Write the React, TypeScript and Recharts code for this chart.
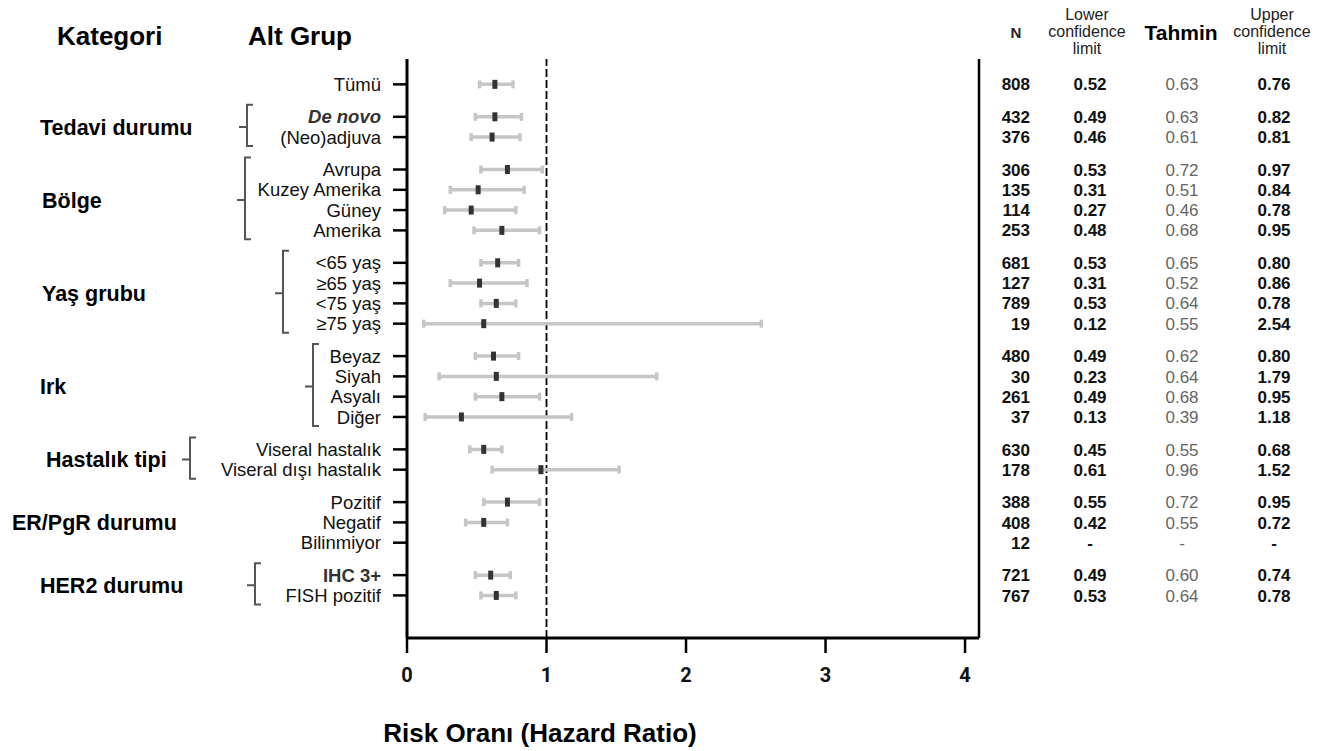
import React from "react"
import { ScatterChart, Scatter, XAxis, YAxis, ErrorBar, ReferenceLine } from "recharts"

// ---- data ----
const groupNames = ["", "Tedavi durumu", "Bölge", "Yaş grubu", "Irk", "Hastalık tipi", "ER/PgR durumu", "HER2 durumu"]
const subgroups = [
  "Tümü",
  "De novo", "(Neo)adjuva",
  "Avrupa", "Kuzey Amerika", "Güney", "Amerika",
  "<65 yaş", "≥65 yaş", "<75 yaş", "≥75 yaş",
  "Beyaz", "Siyah", "Asyalı", "Diğer",
  "Viseral hastalık", "Viseral dışı hastalık",
  "Pozitif", "Negatif", "Bilinmiyor",
  "IHC 3+", "FISH pozitif",
]
const groupOf = [0, 1, 1, 2, 2, 2, 2, 3, 3, 3, 3, 4, 4, 4, 4, 5, 5, 6, 6, 6, 7, 7]
const nValues = [808, 432, 376, 306, 135, 114, 253, 681, 127, 789, 19, 480, 30, 261, 37, 630, 178, 388, 408, 12, 721, 767]
const lowerCL = [0.52, 0.49, 0.46, 0.53, 0.31, 0.27, 0.48, 0.53, 0.31, 0.53, 0.12, 0.49, 0.23, 0.49, 0.13, 0.45, 0.61, 0.55, 0.42, null, 0.49, 0.53]
const estimate = [0.63, 0.63, 0.61, 0.72, 0.51, 0.46, 0.68, 0.65, 0.52, 0.64, 0.55, 0.62, 0.64, 0.68, 0.39, 0.55, 0.96, 0.72, 0.55, null, 0.6, 0.64]
const upperCL = [0.76, 0.82, 0.81, 0.97, 0.84, 0.78, 0.95, 0.8, 0.86, 0.78, 2.54, 0.8, 1.79, 0.95, 1.18, 0.68, 1.52, 0.95, 0.72, null, 0.74, 0.78]
const xTicks = [0, 1, 2, 3, 4]

// ---- layout ----
const W = 1338
const H = 751
const PLOT_TOP = 59
const PLOT_BOTTOM = 638
const GROUP_GAP = 0.6
const Y_DOMAIN: [number, number] = [-1.25, 27.3]
const X_DOMAIN: [number, number] = [0, 4.1]
const UNIT_PX = (PLOT_BOTTOM - PLOT_TOP) / (Y_DOMAIN[1] - Y_DOMAIN[0])
const FONT = '"Liberation Sans", Arial, sans-serif'

// label / bracket x per group (null = none)
const groupLabelX = [0, 40, 42, 42, 40, 46, 12, 40]
const bracketX: (number | null)[] = [null, 247, 245, 283, 313, 190, null, 255]

const rowPos = subgroups.map((_, i) => i + groupOf[i] * GROUP_GAP)

const rows = subgroups.map((name, i) => ({
  name,
  pos: rowPos[i],
  n: nValues[i],
  lo: lowerCL[i],
  est: estimate[i],
  hi: upperCL[i],
  err: estimate[i] == null ? null : [estimate[i]! - lowerCL[i]!, upperCL[i]! - estimate[i]!],
}))
const plotted = rows.filter((r) => r.est != null)

const groupInfo = groupNames.map((name, g) => {
  const ps = rowPos.filter((_, i) => groupOf[i] === g)
  return { name, g, center: (Math.min(...ps) + Math.max(...ps)) / 2, count: ps.length }
})

const fmt = (v: number | null) => (v == null ? "-" : v.toFixed(2))

function SubTick(props: any) {
  const { x, y, payload } = props
  const r = rows.find((d) => Math.abs(d.pos - payload.value) < 1e-6)
  if (!r) return null
  const italic = r.name === "De novo"
  const bold = italic || r.name === "IHC 3+"
  return (
    <text
      x={x}
      y={y}
      dy="0.36em"
      textAnchor="end"
      fontFamily={FONT}
      fontSize={18.5}
      fontStyle={italic ? "italic" : "normal"}
      fontWeight={bold ? 700 : 400}
      fill={bold ? "#333" : "#111"}
    >
      {r.name}
    </text>
  )
}

function GroupTick(props: any) {
  const { y, payload } = props
  const gi = groupInfo.find((d) => Math.abs(d.center - payload.value) < 1e-6)
  if (!gi || !gi.name) return null
  const bx = bracketX[gi.g]
  const half = ((gi.count - 1) * UNIT_PX) / 2
  const top = y - half - 12
  const bot = y + half + 9
  return (
    <g>
      <text x={groupLabelX[gi.g]} y={y} dy="0.36em" fontFamily={FONT} fontSize={21.5} fontWeight={700} fill="#000">
        {gi.name}
      </text>
      {bx != null && (
        <path
          d={`M${bx + 6},${top} L${bx},${top} L${bx},${bot} L${bx + 6},${bot} M${bx},${y} L${bx - 8},${y}`}
          fill="none"
          stroke="#555"
          strokeWidth={2}
        />
      )}
    </g>
  )
}

function TableTick(props: any) {
  const { y, payload } = props
  const r = rows.find((d) => Math.abs(d.pos - payload.value) < 1e-6)
  if (!r) return null
  const common = { y, dy: "0.36em", fontFamily: FONT, fontSize: 17 }
  return (
    <g>
      <text {...common} x={1030} textAnchor="end" fontWeight={700} fill="#111">{r.n}</text>
      <text {...common} x={1090} textAnchor="middle" fontWeight={700} fill="#111">{fmt(r.lo)}</text>
      <text {...common} x={1182} textAnchor="middle" fill="#666">{fmt(r.est)}</text>
      <text {...common} x={1274} textAnchor="middle" fontWeight={700} fill="#111">{fmt(r.hi)}</text>
    </g>
  )
}

const Marker = (p: any) => <rect x={p.cx - 2.5} y={p.cy - 4.5} width={5} height={9} fill="#333" />
const Nothing = () => <g />

export default function App() {
  return (
    <div style={{ position: "relative", width: W, height: H, background: "#fff" }}>
      <style>{"body{margin:0}"}</style>
      <ScatterChart width={W} height={H} margin={{ top: PLOT_TOP, right: 0, bottom: 0, left: 0 }}>
        <XAxis
          type="number"
          dataKey="est"
          domain={X_DOMAIN}
          ticks={xTicks}
          allowDataOverflow
          height={H - PLOT_BOTTOM}
          tickSize={15}
          tickMargin={15}
          axisLine={{ stroke: "#000", strokeWidth: 3 }}
          tickLine={{ stroke: "#000", strokeWidth: 2.5 }}
          tick={{ fill: "#111", fontSize: 20, fontWeight: 700, fontFamily: "Roboto, sans-serif" }}
        />
        <YAxis
          yAxisId="a"
          type="number"
          dataKey="pos"
          domain={Y_DOMAIN}
          reversed
          ticks={rowPos}
          interval={0}
          width={207}
          tickSize={14}
          tickMargin={12}
          axisLine={{ stroke: "#000", strokeWidth: 3 }}
          tickLine={{ stroke: "#000", strokeWidth: 2.5 }}
          tick={<SubTick />}
        />
        <YAxis
          yAxisId="b"
          type="number"
          dataKey="pos"
          domain={Y_DOMAIN}
          reversed
          ticks={groupInfo.map((d) => d.center)}
          interval={0}
          width={200}
          axisLine={false}
          tickLine={false}
          tick={<GroupTick />}
        />
        <YAxis
          yAxisId="c"
          orientation="right"
          type="number"
          dataKey="pos"
          domain={Y_DOMAIN}
          reversed
          ticks={rowPos}
          interval={0}
          width={W - 979}
          axisLine={{ stroke: "#000", strokeWidth: 2.5 }}
          tickLine={false}
          tick={<TableTick />}
        />
        <ReferenceLine x={1} yAxisId="a" stroke="#000" strokeWidth={1.8} strokeDasharray="8 3" />
        <Scatter yAxisId="b" data={plotted} isAnimationActive={false} shape={Nothing} />
        <Scatter yAxisId="c" data={plotted} isAnimationActive={false} shape={Nothing} />
        <Scatter yAxisId="a" data={plotted} isAnimationActive={false} shape={Nothing}>
          <ErrorBar dataKey="err" direction="x" width={4} stroke="#c6c6c6" strokeWidth={3.5} />
        </Scatter>
        <Scatter yAxisId="a" data={plotted} isAnimationActive={false} shape={Marker} />
      </ScatterChart>
      <svg width={W} height={H} style={{ position: "absolute", left: 0, top: 0, pointerEvents: "none" }}>
        <g fontFamily={FONT} fill="#000">
          <text x={57} y={36} dy="0.36em" fontSize={26} fontWeight={700}>Kategori</text>
          <text x={248} y={36} dy="0.36em" fontSize={26} fontWeight={700}>Alt Grup</text>
          <text x={1016} y={33} dy="0.36em" fontSize={15} fontWeight={700} textAnchor="middle" fill="#222">N</text>
          <g fontSize={16} textAnchor="middle" fill="#222">
            <text x={1087} y={14} dy="0.36em">Lower</text>
            <text x={1087} y={31} dy="0.36em">confidence</text>
            <text x={1087} y={48} dy="0.36em">limit</text>
            <text x={1272} y={14} dy="0.36em">Upper</text>
            <text x={1272} y={31} dy="0.36em">confidence</text>
            <text x={1272} y={48} dy="0.36em">limit</text>
          </g>
          <text x={1181} y={32} dy="0.36em" fontSize={21} fontWeight={700} textAnchor="middle">Tahmin</text>
          <text x={540} y={733} dy="0.36em" fontSize={26} fontWeight={700} textAnchor="middle">Risk Oranı (Hazard Ratio)</text>
        </g>
      </svg>
    </div>
  )
}
